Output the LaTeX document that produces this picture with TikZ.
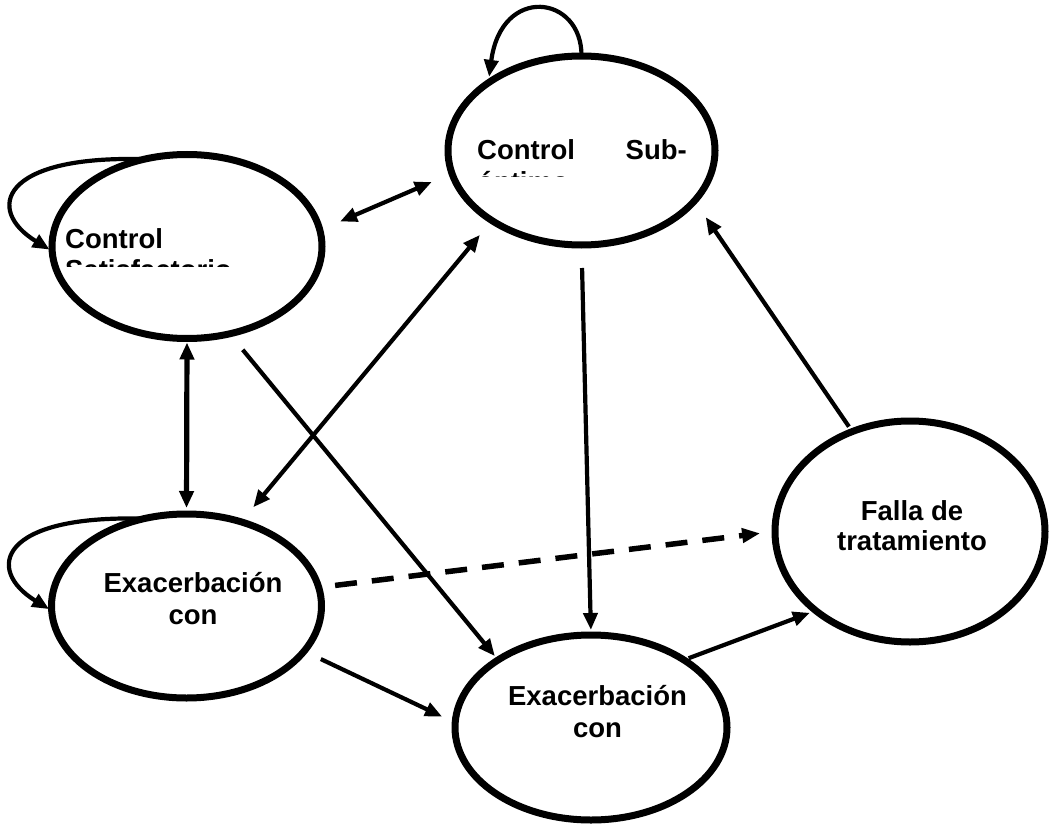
\documentclass[tikz,border=0pt]{standalone}
\usepackage{fontspec}
\setmainfont{Liberation Sans}
\usetikzlibrary{arrows.meta,shapes.geometric}
\begin{document}
\begin{tikzpicture}[x=1pt,y=-1pt,
  st/.style={ellipse, draw, line width=7pt, outer sep=0pt, inner sep=0pt},
  lbl/.style={font=\bfseries\fontsize{27.5}{31}\selectfont, inner sep=0pt},
  arr/.style={line width=4.2pt, -{Triangle[length=17pt,width=14pt]}},
  darr/.style={line width=4.2pt, {Triangle[length=17pt,width=14pt]}-{Triangle[length=17pt,width=14pt]}},
  dasharr/.style={line width=5.5pt, dash pattern=on 22pt off 15pt, -{Triangle[length=18pt,width=14pt]}}
]
\useasboundingbox (0,0) rectangle (1055,824);
% states
\node[st, minimum width=270pt, minimum height=184pt] (e1) at (187,246.5) {};
\node[st, minimum width=267pt, minimum height=189pt] (e2) at (581.5,150.5) {};
\node[st, minimum width=270pt, minimum height=184pt] (e3) at (186.5,606) {};
\node[st, minimum width=272pt, minimum height=185pt] (e4) at (591,727.5) {};
\node[st, minimum width=270pt, minimum height=221pt] (e5) at (910,531.5) {};
% labels
\node[lbl, anchor=base west] (t1a) at (65,248) {Control};
\begin{scope}
  \clip (40,252) rectangle (330,266);
  \node[lbl, anchor=base west] (t1b) at (65,279) {Satisfactorio};
\end{scope}
\node[lbl, anchor=base west] (t2a) at (477,160) {Control};
\node[lbl, anchor=base east] (t2b) at (687,160) {Sub-};
\begin{scope}
  \clip (450,164) rectangle (715,176);
  \node[lbl, anchor=base west] (t2c) at (477,191) {óptimo};
\end{scope}
\node[lbl, anchor=base] (t3a) at (193,592) {Exacerbación};
\node[lbl, anchor=base] (t3b) at (193,624) {con};
\node[lbl, anchor=base] (t4a) at (597.5,705) {Exacerbación};
\node[lbl, anchor=base] (t4b) at (597.5,737) {con};
\node[lbl, anchor=base] (t5a) at (912,520) {Falla de};
\node[lbl, anchor=base] (t5b) at (912,550) {tratamiento};
% transitions
\draw[darr, shorten <=22pt, shorten >=22pt] (e1.7.9) -- (e2.190.7);
\draw[darr, line width=5.2pt, shorten <=4pt, shorten >=6pt] (e1.south) -- (e3.north);
\draw[darr, shorten <=19pt, shorten >=18.7pt] (e3.57.7) -- (e2.218.1);
\draw[arr, shorten <=20.7pt, shorten >=5pt] (e1.-64.4) -- (e4.144.9);
\draw[arr, shorten <=23pt, shorten >=5pt] (e2.-90.7) -- (e4.north);
\draw[dasharr, shorten <=16.5pt, shorten >=15pt] (e3.8.2) -- (e5.180.7);
\draw[arr, shorten <=5pt, shorten >=6.3pt] (e4.36.3) -- (e5.220.1);
\draw[arr, shorten <=18.5pt, shorten >=14.5pt] (e3.-21.6) -- (e4.178.1);
\draw[arr, shorten <=6pt, shorten >=19.8pt] (e5.120.5) -- (e2.-24.5);
% self loops
\draw[arr, shorten >=6pt] (e2.north) .. controls +(0.5,-61) and +(13,-98.6) .. (e2.144.7);
\draw[arr, shorten >=3pt] (e1.116) .. controls +(-144.4,-4.2) and +(-67.2,-41.2) .. (e1.182);
\draw[arr, shorten >=3pt] (e3.116) .. controls +(-144.4,-4.2) and +(-67.2,-41.2) .. (e3.182);
\end{tikzpicture}
\end{document}
